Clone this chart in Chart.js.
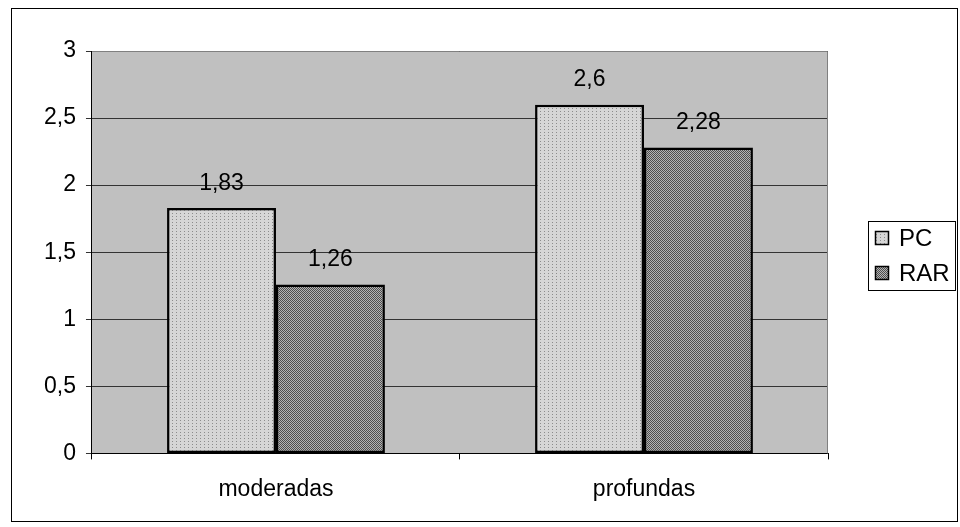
<!DOCTYPE html>
<html>
<head>
<meta charset="utf-8">
<script src="https://cdn.jsdelivr.net/npm/chart.js@4"></script>
<style>
  body { margin: 0; background: #fff; }
  #wrap { width: 960px; height: 527px; }
</style>
</head>
<body>
<div id="wrap"><canvas id="myChart" width="960" height="527"></canvas></div>
<script>
const categories = ['moderadas', 'profundas'];
const seriesNames = ['PC', 'RAR'];
const pcValues = [1.83, 2.6];
const rarValues = [1.26, 2.28];

const FONT = '"Liberation Sans", Arial, sans-serif';

// dotted fill patterns like the old office charts
function makePattern(w, h, base, dot, dots) {
    const c = document.createElement('canvas');
    c.width = w; c.height = h;
    const g = c.getContext('2d');
    g.fillStyle = base;
    g.fillRect(0, 0, w, h);
    g.fillStyle = dot;
    dots.forEach(d => g.fillRect(d[0], d[1], 1, 1));
    return g.createPattern(c, 'repeat');
}
const ctx = document.getElementById('myChart').getContext('2d');
const pcFill = makePattern(4, 3, '#d6d6d6', '#8c8c8c', [[0, 0]]);
const rarFill = makePattern(2, 2, '#b4b4b4', '#4e4e4e', [[0, 0], [1, 1]]);

const comma = v => String(v).replace('.', ',');

const decor = {
    id: 'decor',
    beforeDraw(chart) {
        const c = chart.ctx, a = chart.chartArea;
        c.save();
        c.fillStyle = '#fff';
        c.fillRect(0, 0, chart.width, chart.height);
        c.fillStyle = '#c0c0c0';
        c.fillRect(a.left, a.top, a.right - a.left, a.bottom - a.top);
        c.strokeStyle = '#000';
        c.lineWidth = 1;
        c.strokeRect(11.5, 8.5, 946, 513);
        c.restore();
    },
    afterDatasetsDraw(chart) {
        const c = chart.ctx, a = chart.chartArea;
        c.save();
        c.strokeStyle = '#808080';
        c.lineWidth = 1;
        c.beginPath();
        c.moveTo(a.left, a.top + 0.5); c.lineTo(a.right - 0.5, a.top + 0.5); c.lineTo(a.right - 0.5, a.bottom);
        c.stroke();
        // value labels
        c.fillStyle = '#000';
        c.font = '23px ' + FONT;
        c.textAlign = 'center';
        c.textBaseline = 'bottom';
        chart.data.datasets.forEach((ds, i) => {
            chart.getDatasetMeta(i).data.forEach((bar, j) => {
                c.fillText(comma(ds.data[j]), bar.x, bar.y - 13);
            });
        });
        // legend
        const lx = 868, ly = 221, lw = 87, lh = 69;
        c.fillStyle = '#fff';
        c.fillRect(lx, ly, lw, lh);
        c.strokeStyle = '#000';
        c.strokeRect(lx + 0.5, ly + 0.5, lw, lh);
        c.font = '24px ' + FONT;
        c.textAlign = 'left';
        c.textBaseline = 'middle';
        chart.data.datasets.forEach((ds, i) => {
            const y = ly + 17 + i * 35;
            c.fillStyle = ds.backgroundColor;
            c.fillRect(lx + 7, y - 7, 14, 14);
            c.strokeStyle = '#000';
            c.lineWidth = 1.5;
            c.strokeRect(lx + 7.5, y - 6.5, 13, 13);
            c.fillStyle = '#000';
            c.fillText(ds.label, lx + 31, y + 1);
        });
        c.restore();
    }
};

new Chart(ctx, {
    type: 'bar',
    data: {
        labels: categories,
        datasets: [
            { label: seriesNames[0], data: pcValues, backgroundColor: pcFill, borderColor: '#000', borderWidth: 2.5, borderSkipped: false },
            { label: seriesNames[1], data: rarValues, backgroundColor: rarFill, borderColor: '#000', borderWidth: 2.5, borderSkipped: false }
        ]
    },
    options: {
        responsive: false,
        animation: false,
        layout: { padding: { top: 51, right: 132, left: 34, bottom: 8 } },
        datasets: { bar: { categoryPercentage: 0.592, barPercentage: 1 } },
        plugins: { legend: { display: false }, tooltip: { enabled: false } },
        scales: {
            x: {
                grid: { drawOnChartArea: false, drawTicks: true, tickLength: 6, color: '#000' },
                border: { color: '#000', width: 1 },
                ticks: { color: '#000', font: { size: 23, family: FONT }, padding: 16 }
            },
            y: {
                min: 0, max: 3,
                grid: { color: '#333', tickLength: 6, drawTicks: true, lineWidth: 1 },
                border: { color: '#000', width: 1 },
                ticks: {
                    stepSize: 0.5, color: '#000', padding: 10,
                    font: { size: 23, family: FONT },
                    callback: v => comma(v)
                }
            }
        }
    },
    plugins: [decor]
});
</script>
</body>
</html>
